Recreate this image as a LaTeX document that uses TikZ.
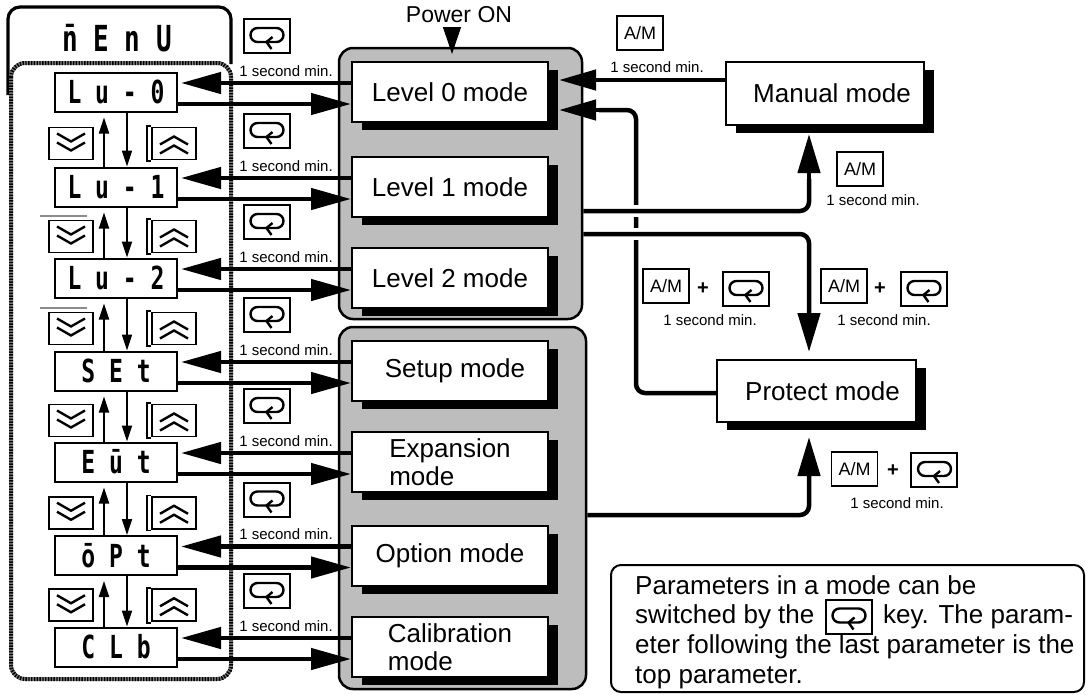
\documentclass[tikz,border=0pt]{standalone}
\usepackage{fontspec}
\usepackage{graphicx}
\setmainfont{Liberation Sans}
\newfontfamily\segfont{DejaVu Sans Mono}
\usetikzlibrary{arrows.meta,shadows}
\newcommand{\myfs}[1]{\fontsize{#1}{#1}\selectfont}
\newcommand{\segtxt}[2]{\scalebox{1}[1.38]{\fontsize{#1}{#1}\selectfont\segfont\bfseries #2}}
\begin{document}
\begin{tikzpicture}[x=1pt,y=-1pt,
  disp/.style={draw, line width=2pt, fill=white, minimum width=122pt, minimum height=39pt, inner sep=0pt},
  modebox/.style={draw, line width=2pt, fill=white, minimum width=196pt, minimum height=60pt, inner sep=0pt, align=left, font=\fontsize{26}{28}\selectfont, drop shadow={shadow xshift=10pt, shadow yshift=-8pt, opacity=1, fill=black}},
  group/.style={draw=black, line width=2.5pt, fill=black!26, rounded corners=14pt, inner sep=0pt},
  amkey/.style={draw, line width=1.6pt, fill=white, minimum width=46pt, minimum height=34pt, inner sep=0pt, font=\myfs{18}},
  loopkey/.style={draw, line width=2pt, fill=white, minimum width=46pt, minimum height=34pt, inner sep=0pt,
    path picture={\begin{scope}[shift={(path picture bounding box.center)}]
      \draw[line width=2.4pt, line join=round] (2,6) -- (-9,6) arc[start angle=90, end angle=270, radius=7] -- (10,-8) arc[start angle=-90, end angle=90, radius=7] -- (1,6);
      \draw[line width=2.4pt, line join=round] (6,1) -- (0,6) -- (5,13);
    \end{scope}}},
  downkey/.style={draw, line width=1.6pt, fill=white, minimum width=44pt, minimum height=32pt, inner sep=0pt,
    path picture={\begin{scope}[shift={(path picture bounding box.center)}]
      \draw[line width=2.4pt] (-14,-10) -- (0,-2) -- (14,-10) (-14,-1) -- (0,7) -- (14,-1);
    \end{scope}}},
  upkey/.style={draw, line width=1.6pt, fill=white, minimum width=44pt, minimum height=32pt, inner sep=0pt,
    path picture={\begin{scope}[shift={(path picture bounding box.center)}]
      \draw[line width=2.4pt] (-14,10) -- (0,2) -- (14,10) (-14,1) -- (0,-7) -- (14,1);
    \end{scope}}},
  sec/.style={font=\myfs{15}, inner sep=0pt},
  plus/.style={font=\myfs{20}\bfseries, inner sep=0pt},
  note/.style={font=\myfs{26}, inner sep=0pt, anchor=base west},
  bigarrow/.style={line width=4.5pt, -{Triangle[length=40pt,width=21pt]}},
  rarrow/.style={line width=4.5pt, -{Triangle[length=39pt,width=22pt]}},
  smallarrow/.style={line width=2pt, -{Triangle[length=16pt,width=10pt]}}
]
\useasboundingbox (0,0) rectangle (1086,694);

% ---------- menu column ----------
\draw[line width=3.2pt, rounded corners=12pt] (8,95) -- (8,7) -- (231,7) -- (231,64);
\node (menu) at (117,38) {\segtxt{26}{n̄ E n U}};
\draw[line width=4pt, black!50, fill=white, rounded corners=14pt] (11,63) rectangle (231,679);
\draw[line width=4pt, dash pattern=on 1.4pt off 1.4pt, rounded corners=14pt] (11,63) rectangle (231,679);

% ---------- mode groups ----------
\node[group, minimum width=243pt, minimum height=271pt] (g1) at (460.5,183.5) {};
\node[group, minimum width=247pt, minimum height=362pt] (g2) at (462.5,508) {};

% ---------- rows ----------
\foreach \i/\r/\t/\m in {0/92/{L u - 0}/{Level 0 mode},
                         1/187/{L u - 1}/{Level 1 mode},
                         2/278/{L u - 2}/{Level 2 mode},
                         3/371/{S E t}/{\hspace*{10pt}Setup mode},
                         4/462/{E ū t}/{Expansion\\mode},
                         5/555.5/{ō P t}/{Option mode},
                         6/647/{C L b}/{Calibration\\mode}} {
  \node[disp] (d\i) at (116,\r) {\segtxt{23}{\t}};
  \node[modebox] (m\i) at (450,\r) {\m};
  \node[loopkey] (k\i) at (266.5,{\r-56}) {};
  \node[sec] (s\i) at (286,{\r-21}) {1 second min.};
  \draw[bigarrow, shorten >=3pt] ([yshift=9pt]m\i.west) -- ([yshift=9pt]d\i.east);
  \draw[bigarrow] ([yshift=-12pt]d\i.east) -- ([yshift=-12pt]m\i.west);
}

% ---------- up/down keys between displays ----------
\coordinate (xu) at (104,0);
\coordinate (xd) at (127,0);
\foreach \i/\j/\c in {0/1/143.5, 1/2/236.5, 2/3/328.5, 3/4/420.5, 4/5/512.75, 5/6/605.25} {
  \node[downkey] (dn\i) at (71,\c) {};
  \node[upkey] (up\i) at (174,\c) {};
  \draw[line width=1.5pt] (151,{\c-17.5}) -- (147,{\c-17.5}) -- (147,{\c+17.5}) -- (151,{\c+17.5});
  \draw[smallarrow, shorten >=5pt] (d\j.north -| xu) -- (d\i.south -| xu);
  \draw[smallarrow] (d\i.south -| xd) -- (d\j.north -| xd);
}
\draw[line width=1.2pt, black!45] (40,216) -- (87,216);
\draw[line width=1.2pt, black!45] (40,308) -- (87,308);

% ---------- Power ON ----------
\node[font=\myfs{23}] (power) at (459,15) {Power ON};
\coordinate (pwtip) at (452,54);
\draw[line width=1pt, -{Triangle[length=27pt,width=18pt]}] (power.south -| pwtip) -- (pwtip);

% ---------- right side ----------
\node[modebox, minimum width=198pt, minimum height=63pt] (man) at (825,93.5) {\hspace*{14pt}Manual mode};
\node[modebox, minimum width=199pt, minimum height=62pt] (prot) at (816.5,391) {\hspace*{12pt}Protect mode};

\node[amkey] (am0) at (640,33) {A/M};
\node[sec] (t0) at (657,67) {1 second min.};
\node[amkey] (am1) at (860,169) {A/M};
\node[sec] (t1) at (873,200) {1 second min.};
\node[amkey] (am2) at (666,286) {A/M};
\node[plus] (p2) at (703,289) {+};
\node[loopkey] (lk2) at (745.5,289) {};
\node[sec] (t2) at (710,320) {1 second min.};
\node[amkey] (am3) at (844,286) {A/M};
\node[plus] (p3) at (880,289) {+};
\node[loopkey] (lk3) at (923.5,289) {};
\node[sec] (t3) at (884,320) {1 second min.};
\node[amkey] (am4) at (854.5,469) {A/M};
\node[plus] (p4) at (893,471) {+};
\node[loopkey] (lk4) at (934,470) {};
\node[sec] (t4) at (897,503) {1 second min.};

\coordinate (m0r) at ([xshift=10pt]m0.east);
\coordinate (ya) at (0,80);
\coordinate (yb) at (0,110);
\coordinate (yc) at (0,393);
\coordinate (yd) at (0,211);
\coordinate (ye) at (0,234);
\coordinate (yf) at (0,515);
\coordinate (xv) at (636,0);
\coordinate (xm) at (809,0);
\coordinate (manb) at ([yshift=-8pt]man.south);
\coordinate (protb) at ([yshift=-8pt]prot.south);

\draw[line width=4.5pt, -{Triangle[length=37pt,width=20pt]}] (man.west |- ya) -- (m0r |- ya);
\draw[line width=4.5pt, rounded corners=9pt] (prot.west |- yc) -- (xv |- yc) -- (xv |- yb) -- ([xshift=40pt]m0r |- yb);
\draw[line width=4.5pt, -{Triangle[length=37pt,width=20pt]}] ([xshift=41pt]m0r |- yb) -- (m0r |- yb);
\fill[white] (630,205) rectangle (642,217);
\fill[white] (630,228) rectangle (642,240);
\draw[line width=4.5pt, rounded corners=9pt] (g1.east |- yd) -- (xm |- yd) -- ([yshift=-45pt]xm |- manb);
\draw[rarrow] ([yshift=-46pt]xm |- manb) -- (xm |- manb);
\draw[line width=4.5pt, rounded corners=9pt] (g1.east |- ye) -- (xm |- ye) -- ([yshift=45pt]xm |- prot.north);
\draw[rarrow, shorten >=7pt] ([yshift=46pt]xm |- prot.north) -- (xm |- prot.north);
\draw[line width=4.5pt, rounded corners=9pt] (g2.east |- yf) -- (xm |- yf) -- ([yshift=-45pt]xm |- protb);
\draw[rarrow, shorten >=6pt] ([yshift=-46pt]xm |- protb) -- (xm |- protb);

% ---------- note ----------
\draw[line width=2pt, rounded corners=10pt] (611,565) rectangle (1084,692);
\node[note] (n1) at (635,594) {Parameters in a mode can be};
\node[note] (n2a) at (635,623) {switched by the};
\node[loopkey] (nk) at (848.5,616.5) {};
\node[note] (n2b) at (883,623) {key. The param-};
\node[note] (n3) at (635,653) {eter following the last parameter is the};
\node[note] (n4) at (635,683) {top parameter.};
\end{tikzpicture}
\end{document}
